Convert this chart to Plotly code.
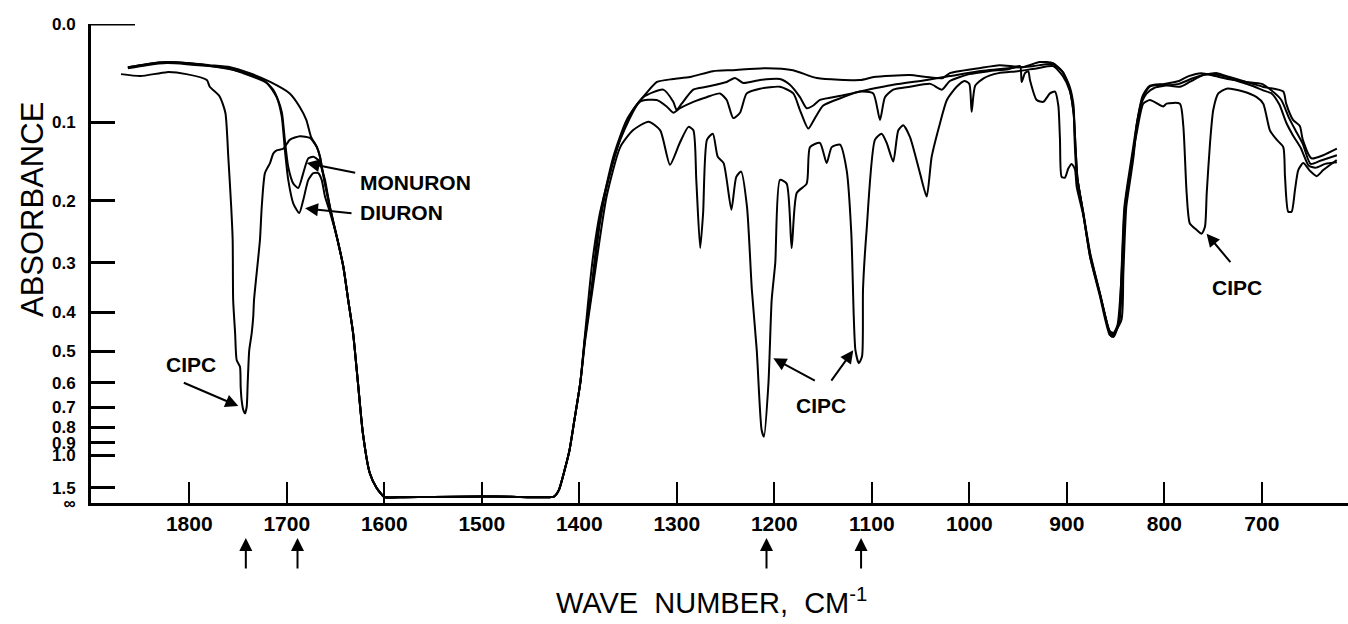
import plotly.graph_objects as go

# ---------------- data (wave number cm^-1, absorbance) ----------------
# common part of all four spectra (solvent cut-off region 1650-1400)
SHARED = [(1648, 0.260), (1642, 0.307), (1637, 0.373), (1632, 0.450), (1627, 0.601),
          (1622, 0.835), (1615, 1.20), (1608, 1.50), (1604, 1.68), (1600, 1.90),
          (1580, 1.92), (1550, 1.90), (1500, 1.86), (1470, 1.88), (1440, 1.92),
          (1426, 1.88), (1421, 1.57), (1415, 1.16), (1410, 0.956), (1405, 0.761),
          (1399, 0.601)]

CIPC_HIGH = [(1870, 0.048), (1850, 0.050), (1823, 0.046), (1803, 0.048), (1782, 0.054),
             (1779, 0.061), (1769, 0.071), (1763, 0.089), (1760, 0.141), (1757, 0.209),
             (1755.5, 0.260), (1755, 0.373), (1753, 0.450), (1751.4, 0.525), (1748, 0.546),
             (1747.3, 0.615), (1746.3, 0.668), (1744.6, 0.712), (1742.9, 0.728), (1741.1, 0.697),
             (1740.1, 0.602), (1738.5, 0.496), (1736, 0.451), (1734.4, 0.410), (1733.6, 0.373),
             (1727.5, 0.260), (1725.7, 0.209), (1722.4, 0.162), (1717.2, 0.149), (1713.9, 0.137),
             (1710.4, 0.133), (1703.6, 0.131), (1696.7, 0.120), (1686.5, 0.116), (1676.2, 0.118),
             (1669.3, 0.129), (1665.9, 0.141), (1662.9, 0.162), (1655.7, 0.209)]
CIPC_LOW = [(1394, 0.470), (1386, 0.345), (1372, 0.194), (1358, 0.129), (1345, 0.109),
            (1329, 0.099), (1317, 0.109), (1307, 0.151), (1297, 0.124), (1288, 0.105),
            (1283, 0.109), (1280, 0.171), (1276, 0.274), (1273, 0.218), (1269, 0.120),
            (1263, 0.113), (1258, 0.141), (1252, 0.149), (1244, 0.213), (1239, 0.167),
            (1234, 0.160), (1228, 0.209), (1223, 0.352), (1218, 0.496), (1213, 0.817),
            (1210.6, 0.859), (1206, 0.602), (1202.7, 0.373), (1199, 0.300), (1194.2, 0.171),
            (1187.3, 0.176), (1182.2, 0.274), (1177, 0.189), (1166.8, 0.176), (1163.4, 0.129),
            (1153.2, 0.124), (1146.3, 0.149), (1141.1, 0.129), (1132.6, 0.126), (1125.8, 0.158),
            (1121, 0.250), (1118.5, 0.410), (1116.8, 0.496), (1113.3, 0.535), (1110, 0.514),
            (1109, 0.350), (1105.3, 0.244), (1096.7, 0.120), (1089.9, 0.113), (1084.7, 0.124),
            (1078, 0.147), (1072.8, 0.109), (1067.7, 0.103), (1060.8, 0.117), (1050.6, 0.162),
            (1043.7, 0.194), (1038.6, 0.141), (1030.1, 0.101), (1023, 0.075), (1013, 0.061),
            (1005, 0.055), (1000, 0.058), (997.6, 0.088), (994, 0.060), (985, 0.052),
            (970, 0.047), (950, 0.045), (930, 0.042), (914, 0.040), (904, 0.050),
            (897, 0.065), (893, 0.090), (891, 0.130), (889, 0.170), (883, 0.220),
            (876, 0.290), (866, 0.365), (856, 0.455), (852, 0.460), (846, 0.420),
            (843, 0.320), (840, 0.210), (836, 0.170), (832, 0.135), (828, 0.110),
            (821.6, 0.079), (814.7, 0.075), (801.1, 0.082), (797.6, 0.079), (784, 0.079),
            (780.5, 0.104), (777.1, 0.189), (773.8, 0.234), (766.8, 0.244), (761.7, 0.250),
            (758.3, 0.239), (756.5, 0.189), (753.1, 0.124), (749.8, 0.086), (744.6, 0.068),
            (736, 0.063), (719, 0.066), (705.3, 0.072), (698.5, 0.079), (691.7, 0.109),
            (684.8, 0.120), (678, 0.129), (676.2, 0.167), (672.9, 0.216), (669.4, 0.216),
            (666, 0.185), (662.6, 0.158), (657.5, 0.149), (650.6, 0.159), (643.7, 0.166),
            (637, 0.158), (623.2, 0.145)]

MONURON_HIGH = [(1863, 0.041), (1844, 0.038), (1823, 0.036), (1803, 0.037), (1770, 0.041),
                (1745, 0.046), (1724, 0.054), (1714, 0.064), (1709, 0.075), (1705, 0.089),
                (1702, 0.120), (1698.5, 0.154), (1693.3, 0.176), (1688.2, 0.182), (1683.1, 0.162),
                (1678, 0.143), (1672.8, 0.141), (1667.7, 0.145), (1664.2, 0.156), (1660.8, 0.171),
                (1655, 0.215)]
MONURON_LOW = [(1394, 0.460), (1387.3, 0.345), (1379, 0.225), (1365.1, 0.141), (1351.4, 0.097),
               (1334.4, 0.072), (1313.9, 0.064), (1303.6, 0.077), (1300.1, 0.086), (1295, 0.079),
               (1283.1, 0.064), (1269.4, 0.061), (1248.8, 0.056), (1240.3, 0.052), (1231.8, 0.057),
               (1214.7, 0.054), (1194.2, 0.053), (1184, 0.059), (1173.7, 0.072), (1166.8, 0.084),
               (1160, 0.081), (1153.2, 0.075), (1129.3, 0.070), (1112.1, 0.066), (1078, 0.059),
               (1043.7, 0.054), (1020, 0.050), (990, 0.045), (960, 0.042), (935, 0.040),
               (915, 0.038), (905, 0.045), (898, 0.060), (893, 0.090), (891, 0.130),
               (889, 0.170), (883, 0.220), (876, 0.290), (866, 0.360), (857, 0.440),
               (853, 0.455), (848, 0.430), (844, 0.330), (841, 0.220), (837, 0.175),
               (832, 0.140), (828, 0.100), (822, 0.070), (815, 0.060), (800, 0.058),
               (785, 0.055), (775, 0.050), (762, 0.047), (748, 0.050), (735, 0.053),
               (716, 0.056), (700, 0.058), (690, 0.065), (680, 0.075), (672, 0.095),
               (665, 0.110), (658, 0.125), (650, 0.150), (640, 0.146), (623, 0.139)]

DIURON_HIGH = [(1863, 0.042), (1844, 0.039), (1823, 0.037), (1803, 0.038), (1760, 0.042),
               (1745, 0.047), (1720.6, 0.057), (1710.4, 0.072), (1705.2, 0.093), (1701.9, 0.133),
               (1698.5, 0.171), (1693.3, 0.204), (1687.2, 0.218), (1683.1, 0.199), (1677.9, 0.171),
               (1672.8, 0.162), (1667.7, 0.162), (1664.2, 0.171), (1660.8, 0.194), (1655, 0.220)]
DIURON_LOW = [(1394, 0.460), (1387, 0.350), (1379, 0.235), (1370, 0.170), (1358, 0.120),
              (1338, 0.077), (1320.7, 0.075), (1310.4, 0.082), (1303.6, 0.089), (1296.7, 0.084),
              (1283, 0.077), (1269.4, 0.072), (1255.7, 0.068), (1248.8, 0.075), (1242.1, 0.095),
              (1235.2, 0.089), (1228.3, 0.068), (1214.7, 0.063), (1194.2, 0.061), (1180.5, 0.068),
              (1173.7, 0.086), (1165.2, 0.107), (1158.3, 0.095), (1149.8, 0.081), (1129.3, 0.072),
              (1112.1, 0.066), (1098.5, 0.068), (1091.6, 0.097), (1086.5, 0.072), (1078, 0.064),
              (1060.9, 0.061), (1040, 0.058), (1028, 0.064), (1020, 0.055), (1000, 0.048),
              (980, 0.045), (960, 0.043), (948, 0.040), (946.3, 0.056), (942.9, 0.047),
              (939.5, 0.045), (937.8, 0.054), (930.9, 0.075), (924.1, 0.077), (917.3, 0.068),
              (912.1, 0.066), (908.7, 0.081), (907, 0.120), (905.3, 0.167), (901.9, 0.168),
              (898.5, 0.156), (895, 0.150), (891.6, 0.157), (889.9, 0.180), (883, 0.222),
              (876, 0.285), (866, 0.360), (856, 0.445), (852, 0.450), (847, 0.430),
              (844, 0.320), (841, 0.210), (837, 0.170), (832, 0.130), (828, 0.100),
              (824, 0.080), (818, 0.068), (810, 0.062), (800, 0.060), (785, 0.058),
              (770, 0.052), (755, 0.048), (740, 0.050), (725, 0.055), (710, 0.060),
              (698, 0.065), (690, 0.068), (682, 0.080), (675, 0.100), (668, 0.115),
              (660, 0.130), (652, 0.152), (645, 0.155), (635, 0.150), (623, 0.148)]

OTHER_HIGH = [(1863, 0.041), (1844, 0.038), (1823, 0.036), (1803, 0.037), (1779, 0.039),
              (1758, 0.041), (1738, 0.047), (1717, 0.056), (1697, 0.068), (1687, 0.082),
              (1680, 0.097), (1675, 0.117), (1669, 0.129), (1666, 0.141), (1663, 0.162),
              (1656, 0.209)]
OTHER_LOW = [(1394, 0.450), (1389, 0.338), (1385.7, 0.286), (1378.8, 0.218), (1368.6, 0.162),
             (1358.3, 0.120), (1344.9, 0.086), (1330.6, 0.067), (1320.3, 0.056), (1303.9, 0.053),
             (1286.5, 0.051), (1262.9, 0.045), (1242.4, 0.044), (1207.6, 0.042), (1180.8, 0.044),
             (1156.2, 0.052), (1112.1, 0.054), (1098, 0.051), (1061, 0.049), (1044, 0.051),
             (1027, 0.052), (1020, 0.047), (990, 0.042), (969, 0.039), (945, 0.041),
             (928, 0.036), (914, 0.037), (904, 0.046), (897, 0.061), (893, 0.082),
             (892, 0.120), (890, 0.162), (883, 0.218), (876, 0.283), (866, 0.359),
             (856, 0.451), (854, 0.459), (844, 0.418), (842, 0.319), (839, 0.209),
             (835, 0.171), (832, 0.145), (828, 0.104), (822, 0.072), (815, 0.061),
             (801, 0.059), (784, 0.061), (774, 0.056), (760, 0.049), (746, 0.047),
             (733, 0.051), (716, 0.056), (699, 0.061), (678, 0.066), (675, 0.079),
             (668, 0.097), (661, 0.104), (658, 0.120), (649, 0.143), (637, 0.139),
             (623, 0.131)]

X_TICKS = [1800, 1700, 1600, 1500, 1400, 1300, 1200, 1100, 1000, 900, 800, 700]
X_TICK_TEXT = ["1800", "1700", "1600", "1500", "1400", "1300", "1200", "1100", "1000", "900", "800", "700"]
Y_TICKS_ABS = [0.0, 0.1, 0.2, 0.3, 0.4, 0.5, 0.6, 0.7, 0.8, 0.9, 1.0, 1.5]
Y_TICK_TEXT = ["0.0", "0.1", "0.2", "0.3", "0.4", "0.5", "0.6", "0.7", "0.8", "0.9", "1.0", "1.5"]
MARKED_BANDS = [1742, 1689, 1208, 1111]   # arrows under the axis

# ---------------- helpers ----------------
def trans(a):
    """absorbance -> transmittance (the paper scale is linear in transmittance)"""
    return 10 ** (-a)

def spectrum(high, low):
    pts = high + SHARED + low
    return [p[0] for p in pts], [trans(p[1]) for p in pts]

series = [("CIPC", CIPC_HIGH, CIPC_LOW), ("Monuron", MONURON_HIGH, MONURON_LOW),
          ("Diuron", DIURON_HIGH, DIURON_LOW), ("Other", OTHER_HIGH, OTHER_LOW)]

fig = go.Figure()
for name, hi, lo in series:
    x, y = spectrum(hi, lo)
    fig.add_trace(go.Scatter(x=x, y=y, mode="lines", name=name,
                             line=dict(color="black", width=2, shape="spline", smoothing=0.6),
                             showlegend=False, hoverinfo="skip"))

tickvals = [trans(a) for a in Y_TICKS_ABS] + [0.0]
ticktext = Y_TICK_TEXT + ["∞"]

LBL = dict(family="Liberation Sans", size=21, color="black", weight="bold")

fig.update_layout(
    width=1348, height=624,
    margin=dict(l=91, r=0, t=24, b=121, pad=0),
    paper_bgcolor="white", plot_bgcolor="white",
    xaxis=dict(range=[1900.8, 611.6], tickmode="array", tickvals=X_TICKS, ticktext=X_TICK_TEXT,
               ticks="inside", ticklen=21, tickwidth=2, tickcolor="black",
               showline=True, linewidth=3, linecolor="black", showgrid=False, zeroline=False,
               ticklabelstandoff=0,
               tickfont=dict(family="Liberation Sans", size=21, color="black", weight="bold")),
    yaxis=dict(range=[0, 1], tickmode="array", tickvals=tickvals, ticktext=ticktext,
               ticks="inside", ticklen=24, tickwidth=3, tickcolor="black",
               showline=True, linewidth=3, linecolor="black", showgrid=False, zeroline=False,
               ticklabelstandoff=9,
               tickfont=dict(family="Liberation Sans", size=17, color="black", weight="bold")),
)

# extended 0.0 line at the top of the absorbance scale
fig.add_shape(type="line", xref="paper", yref="y", x0=0, x1=0.035, y0=1, y1=1,
              line=dict(color="black", width=3))

ann = []
# axis titles
ann.append(dict(xref="paper", yref="paper", x=-0.046, y=0.612, text="ABSORBANCE",
                xanchor="center", yanchor="middle", textangle=-90, showarrow=False,
                font=dict(family="Liberation Sans", size=31, color="black")))
ann.append(dict(xref="paper", yref="paper", x=0.494, y=-0.205,
                xanchor="center", yanchor="middle",
                text="WAVE  NUMBER,  CM<sup>-1</sup>", showarrow=False,
                font=dict(family="Liberation Sans", size=29, color="black")))

# labels
ann.append(dict(x=1627, y=trans(0.174), xanchor="left", yanchor="middle", text="MONURON",
                showarrow=False, font=LBL))
ann.append(dict(x=1627, y=trans(0.217), xanchor="left", yanchor="middle", text="DIURON",
                showarrow=False, font=LBL))
ann.append(dict(x=1798, y=trans(0.54), xanchor="center", yanchor="middle", text="CIPC",
                showarrow=False, font=LBL))
ann.append(dict(x=1152, y=trans(0.69), xanchor="center", yanchor="middle", text="CIPC",
                showarrow=False, font=LBL))
ann.append(dict(x=725, y=trans(0.346), xanchor="center", yanchor="middle", text="CIPC",
                showarrow=False, font=LBL))

arrow = dict(showarrow=True, arrowhead=2, arrowsize=1.3, arrowwidth=2, arrowcolor="black",
             text="", xref="x", yref="y")
ann.append(dict(arrow, x=1679.6, y=trans(0.149), ax=50, ay=10))
ann.append(dict(arrow, x=1681.3, y=trans(0.211), ax=48, ay=5))
ann.append(dict(arrow, x=1749.7, y=trans(0.694), ax=-56, ay=-24))
ann.append(dict(arrow, x=1201, y=trans(0.520), ax=43, ay=23))
ann.append(dict(arrow, x=1119, y=trans(0.496), ax=-23, ay=32))
ann.append(dict(arrow, x=756.6, y=trans(0.250), ax=25, ay=30))

# arrows below the axis marking the analytical bands
for wn in MARKED_BANDS:
    ann.append(dict(x=wn, xref="x", yref="paper", y=-0.073, ax=0, ay=32, text="",
                    showarrow=True, arrowhead=2, arrowsize=1.3, arrowwidth=2, arrowcolor="black"))

fig.update_layout(annotations=ann)
fig.write_html("out.html")
